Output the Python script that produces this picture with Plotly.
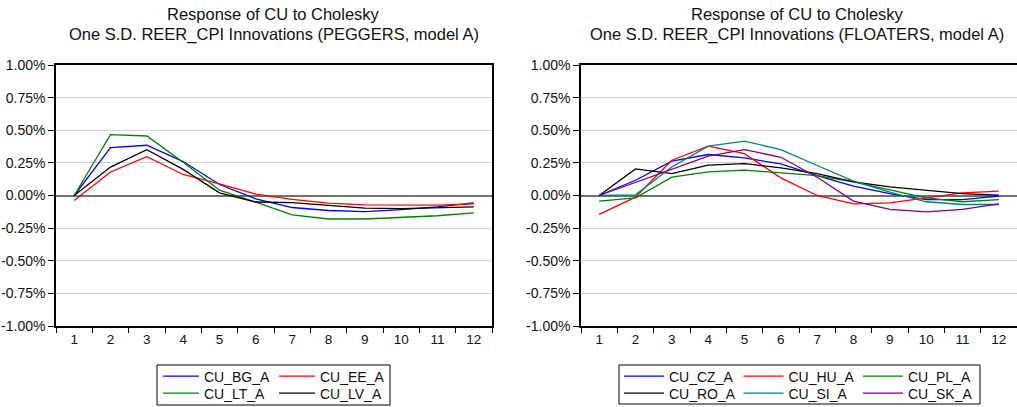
import plotly.graph_objects as go

W, H = 1017, 407

periods = [str(i) for i in range(1, 13)]

# PEGGERS (values in %)
cu_bg = [0.0, 0.367, 0.385, 0.26, 0.084, -0.026, -0.092, -0.115, -0.123, -0.108, -0.087, -0.056]
cu_ee = [-0.038, 0.18, 0.297, 0.161, 0.089, 0.01, -0.03, -0.059, -0.072, -0.074, -0.074, -0.064]
cu_lt = [0.0, 0.467, 0.456, 0.255, 0.041, -0.05, -0.149, -0.18, -0.18, -0.17, -0.155, -0.133]
cu_lv = [0.0, 0.218, 0.351, 0.2, 0.02, -0.05, -0.055, -0.074, -0.097, -0.1, -0.095, -0.087]

# FLOATERS (values in %)
cu_cz = [0.0, 0.117, 0.263, 0.314, 0.288, 0.242, 0.153, 0.071, 0.015, -0.031, -0.031, -0.005]
cu_hu = [-0.145, -0.013, 0.27, 0.378, 0.321, 0.135, 0.0, -0.064, -0.056, -0.018, 0.02, 0.033]
cu_pl = [-0.043, -0.018, 0.14, 0.181, 0.194, 0.173, 0.153, 0.105, 0.041, -0.018, -0.048, -0.031]
cu_ro = [0.0, 0.204, 0.168, 0.232, 0.245, 0.212, 0.168, 0.105, 0.066, 0.038, 0.015, 0.003]
cu_si = [0.0, 0.005, 0.219, 0.378, 0.416, 0.352, 0.23, 0.11, 0.026, -0.048, -0.069, -0.069]
cu_sk = [0.0, 0.102, 0.199, 0.301, 0.352, 0.293, 0.14, -0.043, -0.107, -0.125, -0.107, -0.064]

y_tickvals = [1.0, 0.75, 0.5, 0.25, 0.0, -0.25, -0.5, -0.75, -1.0]
y_ticktext = ["1.00%", "0.75%", "0.50%", "0.25%", "0.00%", "-0.25%", "-0.50%", "-0.75%", "-1.00%"]

title_l1 = "Response of CU to Cholesky"
title_l2_left = "One S.D. REER_CPI Innovations (PEGGERS, model A)"
title_l2_right = "One S.D. REER_CPI Innovations (FLOATERS, model A)"

FONT = "Liberation Sans, Arial, sans-serif"
BLUE, RED, GREEN, BLACK, TEAL, PURPLE = "#0000ff", "#ff0000", "#008000", "#000000", "#008080", "#800080"

fig = go.Figure()

left_series = [("CU_BG_A", cu_bg, BLUE, "legend"), ("CU_EE_A", cu_ee, RED, "legend"),
               ("CU_LT_A", cu_lt, GREEN, "legend2"), ("CU_LV_A", cu_lv, BLACK, "legend2")]
right_series = [("CU_CZ_A", cu_cz, BLUE, "legend3"), ("CU_HU_A", cu_hu, RED, "legend3"),
                ("CU_PL_A", cu_pl, GREEN, "legend3"), ("CU_RO_A", cu_ro, BLACK, "legend4"),
                ("CU_SI_A", cu_si, TEAL, "legend4"), ("CU_SK_A", cu_sk, PURPLE, "legend4")]

for name, vals, col, lg in left_series:
    fig.add_trace(go.Scatter(x=periods, y=vals, mode="lines", name=name,
                             line=dict(color=col, width=1.3), xaxis="x", yaxis="y", legend=lg))
for name, vals, col, lg in right_series:
    fig.add_trace(go.Scatter(x=periods, y=vals, mode="lines", name=name,
                             line=dict(color=col, width=1.3), xaxis="x2", yaxis="y2", legend=lg))

ydom = [1 - 326 / H, 1 - 65 / H]
xdom_l = [56 / W, 492 / W]
xdom_r = [581 / W, 1.0]

xcommon = dict(type="category", tickson="boundaries", ticks="outside", ticklen=5,
               tickcolor="black", showline=True, linecolor="black", linewidth=1.5,
               mirror=True, showgrid=False, tickfont=dict(family=FONT, size=13.5, color="#111"),
               range=[-0.5, 11.5], fixedrange=True, automargin=False)
ycommon = dict(range=[-1.0, 1.0], tickvals=y_tickvals, ticktext=y_ticktext, ticks="outside",
               ticklen=6, tickcolor="black", showline=True, linecolor="black", linewidth=1.5,
               mirror=True, showgrid=True, gridcolor="#d4d4d4", gridwidth=1,
               zeroline=True, zerolinecolor="#707070", zerolinewidth=2,
               tickfont=dict(family=FONT, size=14, color="#111"), fixedrange=True, automargin=False)

fig.update_layout(
    width=W, height=H, margin=dict(l=0, r=0, t=0, b=0, autoexpand=False),
    paper_bgcolor="white", plot_bgcolor="white",
    font=dict(family=FONT, color="#111"),
    xaxis=dict(domain=xdom_l, anchor="y", **xcommon),
    yaxis=dict(domain=ydom, anchor="x", **ycommon),
    xaxis2=dict(domain=xdom_r, anchor="y2", **xcommon),
    yaxis2=dict(domain=ydom, anchor="x2", **ycommon),
)

legend_common = dict(orientation="h", xanchor="left", yanchor="middle",
                     font=dict(family=FONT, size=14, color="#111"),
                     bgcolor="rgba(0,0,0,0)", borderwidth=0,
                     entrywidthmode="pixels", tracegroupgap=0, itemclick=False, itemdoubleclick=False)
y_row1 = 1 - 376.5 / H
y_row2 = 1 - 393.5 / H
fig.update_layout(
    legend=dict(x=158 / W, y=y_row1, entrywidth=65, itemwidth=36, **legend_common),
    legend2=dict(x=158 / W, y=y_row2, entrywidth=65, itemwidth=36, **legend_common),
    legend3=dict(x=619 / W, y=y_row1, entrywidth=64.5, itemwidth=40, **legend_common),
    legend4=dict(x=619 / W, y=y_row2, entrywidth=64.5, itemwidth=40, **legend_common),
)

# legend boxes
fig.add_shape(type="rect", xref="paper", yref="paper", x0=157 / W, x1=390 / W,
              y0=1 - 405 / H, y1=1 - 365 / H, line=dict(color="black", width=1))
fig.add_shape(type="rect", xref="paper", yref="paper", x0=619 / W, x1=980 / W,
              y0=1 - 404 / H, y1=1 - 365 / H, line=dict(color="black", width=1))

# titles
for cx, l2 in [(273.5, title_l2_left), (797, title_l2_right)]:
    fig.add_annotation(text=title_l1, xref="paper", yref="paper", x=cx / W, y=1 - 13.5 / H,
                       xanchor="center", yanchor="middle", showarrow=False,
                       font=dict(family=FONT, size=16.5, color="#111"))
    fig.add_annotation(text=l2, xref="paper", yref="paper", x=cx / W, y=1 - 35 / H,
                       xanchor="center", yanchor="middle", showarrow=False,
                       font=dict(family=FONT, size=16.5, color="#111"))

fig.write_html("out.html")
